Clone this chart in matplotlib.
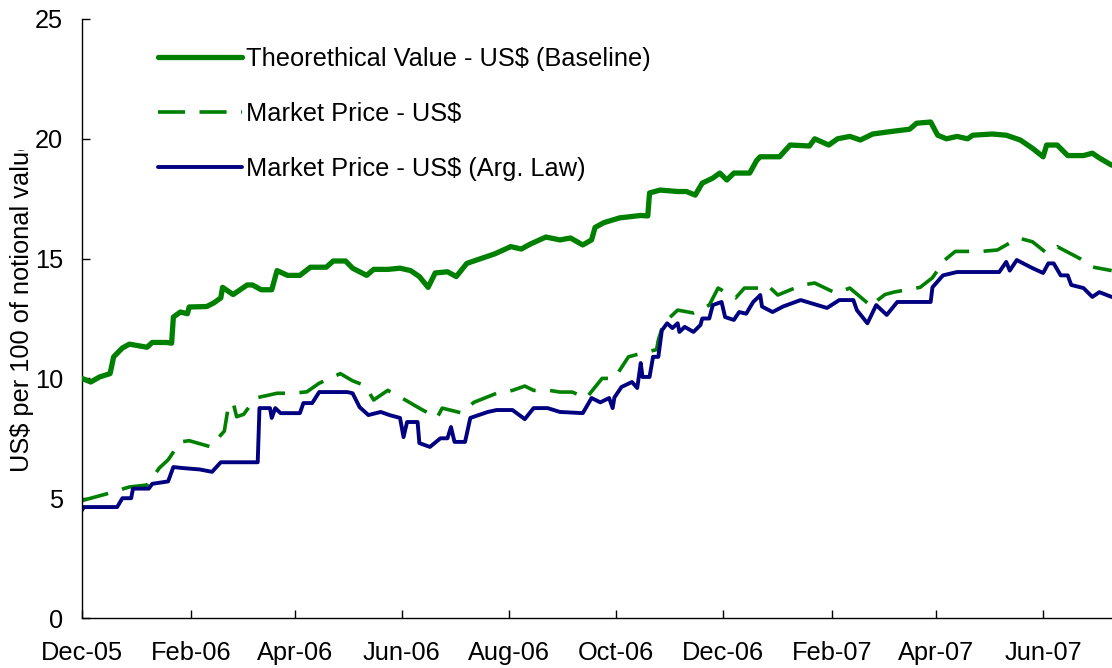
import matplotlib
matplotlib.use("Agg")
import matplotlib.pyplot as plt
import matplotlib.dates as mdates
from matplotlib.transforms import Bbox
import pandas as pd

plt.rcParams['font.family'] = ['Liberation Sans', 'DejaVu Sans']

START = "2005-12-01"

# Theoretical value (days since 1 Dec 2005, value)
theo_days = [0, 5, 10, 16, 18, 23, 27, 37, 40, 48, 51, 52, 56, 60, 61, 71, 75, 79, 80, 86,
             94, 97, 102, 108, 111, 117, 124, 130, 139, 143, 150, 154, 162, 166, 174, 181,
             187, 192, 197, 201, 208, 213, 219, 227, 235, 244, 250, 255, 264,
             272, 278, 285, 290, 292, 297, 306, 318, 322, 323, 329, 339, 344, 349, 353, 359,
             363, 367, 371, 380, 384, 386, 397, 403, 414,
             417, 425, 430, 437, 443, 450, 460, 471, 475, 483, 487, 492, 498, 504, 507, 518,
             526, 534, 541, 547, 549, 555, 561, 570, 575, 579, 586]
theo_vals = [10.0, 9.85, 10.06, 10.2, 10.9, 11.27, 11.43, 11.3, 11.5, 11.5, 11.47, 12.56, 12.77,
             12.7, 12.98, 13.0, 13.15, 13.36, 13.8, 13.5, 13.9, 13.9, 13.7, 13.7, 14.5, 14.3,
             14.3, 14.64, 14.64, 14.9, 14.9, 14.6, 14.3, 14.55, 14.55, 14.6, 14.5, 14.25, 13.8,
             14.4, 14.45, 14.25, 14.8, 15.0, 15.2, 15.5, 15.4, 15.6, 15.9,
             15.78, 15.86, 15.57, 15.78, 16.3, 16.5, 16.7, 16.8, 16.78, 17.74, 17.86, 17.8,
             17.8, 17.65, 18.15, 18.36, 18.57, 18.28, 18.57, 18.57, 19.1, 19.25,
             19.25, 19.74, 19.7, 20.0, 19.74, 20.0, 20.1, 19.95, 20.2, 20.3, 20.4, 20.65, 20.7,
             20.15, 20.0, 20.1, 20.0, 20.15, 20.2, 20.15, 19.95, 19.6, 19.25, 19.74, 19.74,
             19.3, 19.3, 19.4, 19.2, 18.9]

# Market price (days, value)
mkt_days = [0, 5, 15, 27, 37, 44, 49, 56, 61, 73, 81, 83, 86, 88, 92, 96, 100, 111, 120, 128,
            135, 147, 154, 161, 166, 174, 184, 191, 202, 205, 216, 223, 236, 245, 252, 257,
            266, 272, 279, 287, 296, 303, 311, 319, 327, 328, 331, 339, 348, 357, 362, 372,
            377, 386, 390, 396, 410, 417, 429, 437, 447, 448, 457, 462, 477, 484, 491, 497, 512,
            521, 533, 541, 549, 555, 568, 575, 586]
mkt_vals = [4.9, 5.0, 5.2, 5.47, 5.55, 6.26, 6.6, 7.35, 7.4, 7.15, 7.8, 8.7, 9.0, 8.4, 8.5,
            8.9, 9.2, 9.38, 9.38, 9.44, 9.8, 10.2, 9.9, 9.7, 9.1, 9.5, 9.1, 8.8, 8.35, 8.76,
            8.56, 9.0, 9.38, 9.5, 9.68, 9.5, 9.5, 9.43, 9.43, 9.18, 10.0, 10.0, 10.9, 11.06,
            11.2, 11.6, 12.3, 12.85, 12.73, 13.06, 13.77, 13.36, 13.77, 13.77, 13.9, 13.48,
            13.9, 13.98, 13.56, 13.77, 13.15, 13.0, 13.5, 13.6, 13.8, 14.2, 14.94, 15.3, 15.3,
            15.36, 15.86, 15.7, 15.23, 15.5, 15.0, 14.65, 14.5]

# Market price, Argentine law (days, value)
arg_days = [0, 1, 20, 23, 28, 29, 38, 40, 49, 52, 57, 67, 74, 79, 100, 101, 107, 108, 110,
            113, 124, 126, 131, 135, 151, 154, 158, 163, 170, 175, 181, 183, 185, 191, 192,
            198, 204, 208, 210, 212, 218, 221, 231, 236, 245, 252, 257, 265,
            272, 285, 290, 295, 300, 302, 303, 307, 313, 316, 318, 319, 323, 325, 328, 330,
            333, 336, 339, 340, 343, 348, 352, 353, 357, 359, 364, 366, 371, 374, 378, 382,
            385, 386, 387, 393, 399, 409, 424, 431, 439, 441,
            447, 452, 458, 464, 483, 484, 490, 498, 522, 526, 528, 532, 541, 547, 550, 553,
            557, 561, 563, 570, 575, 579, 586]
arg_vals = [4.5, 4.63, 4.63, 5.0, 5.0, 5.4, 5.4, 5.6, 5.7, 6.3, 6.26, 6.2, 6.1, 6.5, 6.5,
            8.76, 8.76, 8.35, 8.76, 8.55, 8.55, 8.97, 8.97, 9.43, 9.43, 9.38, 8.8, 8.47, 8.6,
            8.47, 8.35, 7.55, 8.18, 8.18, 7.3, 7.14, 7.5, 7.5, 7.97, 7.35, 7.35, 8.35, 8.6,
            8.68, 8.68, 8.3, 8.76, 8.76,
            8.6, 8.55, 9.18, 9.0, 9.18, 8.76, 9.2, 9.64, 9.85, 9.6, 10.64, 10.06, 10.06, 10.9,
            10.9, 12.0, 12.3, 12.1, 12.3, 11.94, 12.15, 11.94, 12.23, 12.5, 12.5, 13.06, 13.19,
            12.56, 12.44, 12.77, 12.7, 13.19, 13.4, 13.48, 13.0, 12.77, 13.0, 13.27, 12.94,
            13.27, 13.27, 12.85, 12.3, 13.06, 12.65, 13.19, 13.19, 13.8, 14.3, 14.44, 14.44,
            14.86, 14.5, 14.94, 14.6, 14.4, 14.8, 14.8, 14.3, 14.3, 13.9, 13.77, 13.4, 13.6,
            13.4]

labels = ["Theorethical Value - US$ (Baseline)", "Market Price - US$",
          "Market Price - US$ (Arg. Law)"]
ylabel = "US$ per 100 of notional value"
yticks = [0, 5, 10, 15, 20, 25]


def to_dates(days):
    return pd.Timestamp(START) + pd.to_timedelta(days, unit="D")


W, H = 1112, 668
FS = 18.3
fig = plt.figure(figsize=(W / 100, H / 100), dpi=100)
ax = fig.add_axes([82 / W, 50 / H, (W - 82) / W, 599 / H])

GREEN = "#008000"
NAVY = "#000080"

ax.plot(to_dates(theo_days), theo_vals, color=GREEN, lw=3.8, solid_capstyle="round",
        solid_joinstyle="round", label=labels[0], zorder=3)
ax.plot(to_dates(mkt_days), mkt_vals, color=GREEN, lw=2.6, dashes=(7.5, 4.0),
        dash_capstyle="butt", label=labels[1], zorder=2)
ax.plot(to_dates(arg_days), arg_vals, color=NAVY, lw=2.8, solid_capstyle="round",
        solid_joinstyle="round", label=labels[2], zorder=2)

ax.set_ylim(0, 25)
ax.set_yticks(yticks)
ax.set_xlim(pd.Timestamp(START), pd.Timestamp(START) + pd.Timedelta(days=586.2))
ax.xaxis.set_major_locator(mdates.MonthLocator(bymonth=[12, 2, 4, 6, 8, 10]))
ax.xaxis.set_major_formatter(mdates.DateFormatter("%b-%y"))

for s in ["top", "right"]:
    ax.spines[s].set_visible(False)
for s in ["left", "bottom"]:
    ax.spines[s].set_color("black")
    ax.spines[s].set_linewidth(1.0)

ax.tick_params(axis="both", direction="in", length=6, width=1, labelsize=FS,
               colors="black")
ax.tick_params(axis="y", pad=13.5)
ax.tick_params(axis="x", pad=16.5)

leg = ax.legend(loc="upper left", bbox_to_anchor=(158 / W, 1 - 47 / H),
                bbox_transform=fig.transFigure, frameon=False, fontsize=FS,
                handlelength=3.3, handletextpad=0.16, labelspacing=1.22,
                borderpad=0, borderaxespad=0)

t = fig.text(22 / W, 1 - 472 / H, ylabel, rotation=90, ha="center", va="bottom",
             fontsize=FS)
t.set_clip_box(Bbox([[0, 0], [W, H - 150]]))
t.set_clip_on(True)

fig.savefig("out.png", dpi=100)
